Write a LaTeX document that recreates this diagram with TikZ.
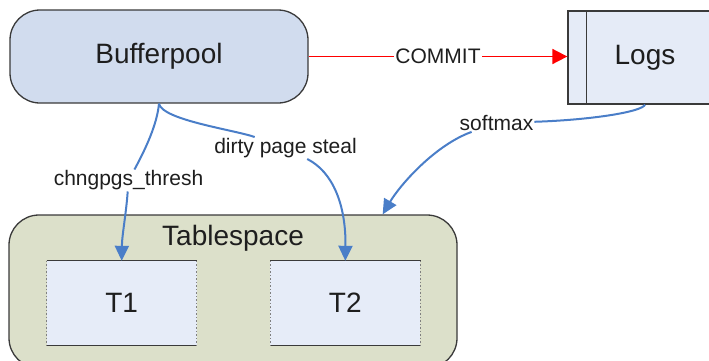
\documentclass[tikz,border=0pt]{standalone}
\usepackage{fontspec}
\setmainfont{Liberation Sans}
\usetikzlibrary{arrows.meta,positioning,calc}
\definecolor{edge}{HTML}{3A3A3A}
\definecolor{ink}{HTML}{1E1E1E}
\definecolor{bpfill}{HTML}{D1DCEE}
\definecolor{logfill}{HTML}{E5EBF7}
\definecolor{tsfill}{HTML}{DCE0CA}
\definecolor{tblfill}{HTML}{E6ECF8}
\definecolor{flowblue}{HTML}{4A7EC8}

\begin{document}
\begin{tikzpicture}[
    x=1pt, y=-1pt,
    blk/.style={draw=edge, line width=1.3pt, font=\fontsize{28}{32}\selectfont, text=ink},
    tbl/.style={fill=tblfill, minimum width=150pt, minimum height=84pt, font=\fontsize{28}{32}\selectfont, text=ink},
    lbl/.style={fill=white, inner sep=1pt, font=\fontsize{21}{24}\selectfont, text=ink},
    flow/.style={draw=flowblue, line width=2pt},
    tip/.style={-{Triangle[length=15pt,width=14pt]}}
]
\useasboundingbox (0,0) rectangle (709,360);
% Bufferpool and Logs
\node[blk, fill=bpfill, rounded corners=30pt, minimum width=298pt, minimum height=93pt] (bp) at (159,56.5) {Bufferpool};
\node[blk, fill=logfill, minimum width=154pt, minimum height=93pt] (logs) at (645,57.5) {Logs};
\draw[edge, line width=1.3pt] ([xshift=19pt]logs.north west) -- ([xshift=19pt]logs.south west);
% Tablespace
\node[blk, fill=tsfill, rounded corners=30pt, minimum width=448pt, minimum height=153pt] (ts) at (233,291.5) {};
\node[font=\fontsize{28}{32}\selectfont, text=ink, anchor=base] (tsl) at (233,245) {Tablespace};
\node[tbl] (t1) at (121.7,303) {T1};
\node[tbl] (t2) at (345.3,303) {T2};
\foreach \t in {t1,t2} {
    \draw[edge, line width=1.3pt] (\t.north west) -- (\t.north east);
    \draw[edge, line width=1.3pt] (\t.south west) -- (\t.south east);
    \draw[gray, line width=1pt, dash pattern=on 1.5pt off 2pt] (\t.north west) -- (\t.south west);
    \draw[gray, line width=1pt, dash pattern=on 1.5pt off 2pt] (\t.north east) -- (\t.south east);
}
% COMMIT
\draw[red, line width=1.8pt, -{Triangle[length=15pt,width=15pt]}] (bp.east) -- (bp.east -| logs.west)
    node[lbl, midway] (cmt) {COMMIT};
% chngpgs_thresh
\node[lbl] (thr) at (128.5,180.5) {chngpgs\_thresh};
\draw[flow] (bp.south) .. controls (157,125) and (145,150) .. (thr);
\draw[flow, tip] (thr) .. controls (126,215) and (122,235) .. (t1.north);
% dirty page steal
\node[lbl] (dps) at (285.5,148) {dirty page steal};
\draw[flow] (bp.south) .. controls (162,120) and (235,130) .. (dps);
\draw[flow, tip] (dps) .. controls (333,172) and (346,205) .. (t2.north);
% softmax
\node[lbl] (soft) at (496.5,123) {softmax};
\draw[flow] (logs.south) .. controls (642,112) and (590,120) .. (soft);
\draw[flow, tip] (soft) .. controls (435,145) and (400,185) .. ([xshift=-75pt]ts.north east);
\end{tikzpicture}
\end{document}
